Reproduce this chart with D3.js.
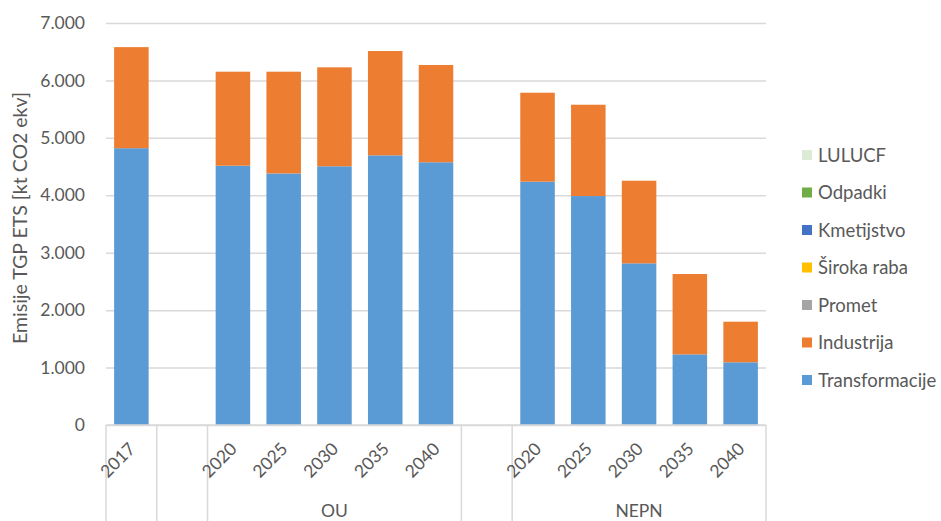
<!DOCTYPE html>
<html>
<head>
<meta charset="utf-8">
<script src="https://cdn.jsdelivr.net/npm/d3@7/dist/d3.min.js"></script>
<style>
  html, body { margin: 0; padding: 0; background: #ffffff; }
  svg text { font-family: Lato, "Open Sans", sans-serif; fill: #595959; }
</style>
</head>
<body>
<svg id="chart" width="941" height="521"></svg>
<script>
// Category slots along the x axis (empty strings are spacer slots between groups)
const years = ["2017", "", "2020", "2025", "2030", "2035", "2040", "", "2020", "2025", "2030", "2035", "2040"];
// Second-level grouping: label and number of slots covered
const groupLabels = ["", "", "OU", "", "NEPN"];
const groupSizes = [1, 1, 5, 1, 5];

// ETS emissions by sector [kt CO2 ekv]; null = spacer slot
const transformacije = [4820, null, 4515, 4380, 4505, 4695, 4575, null, 4237, 3987, 2815, 1230, 1092];
const industrija     = [1760, null, 1637, 1772, 1723, 1817, 1694, null, 1549, 1590, 1439, 1399, 707];
const promet         = [0, null, 0, 0, 0, 0, 0, null, 0, 0, 0, 0, 0];
const sirokaRaba     = [0, null, 0, 0, 0, 0, 0, null, 0, 0, 0, 0, 0];
const kmetijstvo     = [0, null, 0, 0, 0, 0, 0, null, 0, 0, 0, 0, 0];
const odpadki        = [0, null, 0, 0, 0, 0, 0, null, 0, 0, 0, 0, 0];
const lulucf         = [0, null, 0, 0, 0, 0, 0, null, 0, 0, 0, 0, 0];

const seriesNames = ["Transformacije", "Industrija", "Promet", "Široka raba", "Kmetijstvo", "Odpadki", "LULUCF"];
const seriesValues = [transformacije, industrija, promet, sirokaRaba, kmetijstvo, odpadki, lulucf];
const seriesColors = ["#5b9bd5", "#ed7d31", "#a5a5a5", "#ffc000", "#4472c4", "#70ad47", "#dcebd5"];

const yTicks = [0, 1000, 2000, 3000, 4000, 5000, 6000, 7000];
const yTitle = "Emisije TGP ETS [kt CO2 ekv]";

const svg = d3.select("#chart");
const plot = { left: 106, right: 766, top: 23, bottom: 425 };

const slotKeys = years.map((y, i) => i);
const x = d3.scaleBand().domain(slotKeys).range([plot.left, plot.right]).paddingInner(0.32).paddingOuter(0.16);
const y = d3.scaleLinear().domain([0, 7000]).range([plot.bottom, plot.top]);
const fmt = v => d3.format(",")(v).replace(/,/g, ".");

// Horizontal gridlines
const yAxis = d3.axisLeft(y).tickValues(yTicks).tickSize(-(plot.right - plot.left)).tickPadding(21).tickFormat(fmt);
const gy = svg.append("g").attr("transform", `translate(${plot.left},0)`).call(yAxis);
gy.select(".domain").remove();
gy.selectAll(".tick line").attr("stroke", "#d9d9d9").attr("stroke-width", 1.5);
gy.selectAll(".tick text").attr("font-size", 17.5).attr("fill", "#595959").style("font-family", "Lato, sans-serif");

// Stacked bars
const rows = slotKeys.map(i => {
  const r = { slot: i };
  seriesNames.forEach((n, k) => { r[n] = seriesValues[k][i] == null ? 0 : seriesValues[k][i]; });
  return r;
});
const stacked = d3.stack().keys(seriesNames)(rows);
svg.append("g").selectAll("g").data(stacked).join("g")
  .attr("fill", (d, k) => seriesColors[k])
  .selectAll("rect").data(d => d.filter(p => years[p.data.slot] !== "")).join("rect")
  .attr("x", p => x(p.data.slot))
  .attr("width", x.bandwidth())
  .attr("y", p => y(p[1]))
  .attr("height", p => y(p[0]) - y(p[1]));

// Category axis baseline
svg.append("line").attr("x1", plot.left).attr("x2", plot.right)
  .attr("y1", plot.bottom).attr("y2", plot.bottom)
  .attr("stroke", "#d9d9d9").attr("stroke-width", 1.5);

// Group boundary lines under the axis
const bounds = [0];
groupSizes.reduce((acc, s) => { bounds.push(acc + s); return acc + s; }, 0);
const slotW = (plot.right - plot.left) / years.length;
svg.append("g").selectAll("line").data(bounds).join("line")
  .attr("x1", b => plot.left + b * slotW)
  .attr("x2", b => plot.left + b * slotW)
  .attr("y1", plot.bottom).attr("y2", 521)
  .attr("stroke", "#d9d9d9").attr("stroke-width", 1.5);

// Rotated year labels
svg.append("g").selectAll("text").data(slotKeys.filter(i => years[i] !== "")).join("text")
  .attr("transform", i => `translate(${x(i) + x.bandwidth() / 2 + 5},${plot.bottom + 25}) rotate(-45)`)
  .attr("text-anchor", "end")
  .attr("font-size", 17.5)
  .text(i => years[i]);

// Group labels
let start = 0;
groupLabels.forEach((g, k) => {
  const a = plot.left + start * slotW;
  const b = plot.left + (start + groupSizes[k]) * slotW;
  if (g) {
    svg.append("text").attr("x", (a + b) / 2).attr("y", 517)
      .attr("text-anchor", "middle").attr("font-size", 17.5).text(g);
  }
  start += groupSizes[k];
});

// Y axis title
svg.append("text")
  .attr("transform", `translate(27,${(plot.top + plot.bottom) / 2 - 6}) rotate(-90)`)
  .attr("text-anchor", "middle").attr("font-size", 19.5).text(yTitle);

// Legend (top entry = last series)
const legendOrder = seriesNames.map((n, k) => k).reverse();
const lg = svg.append("g").selectAll("g").data(legendOrder).join("g")
  .attr("transform", (k, j) => `translate(802,${155 + j * 37.5})`);
lg.append("rect").attr("x", 0).attr("y", -5).attr("width", 10).attr("height", 10)
  .attr("fill", k => seriesColors[k]);
lg.append("text").attr("x", 16).attr("y", 6.5).attr("font-size", 18.5).text(k => seriesNames[k]);
</script>
</body>
</html>
